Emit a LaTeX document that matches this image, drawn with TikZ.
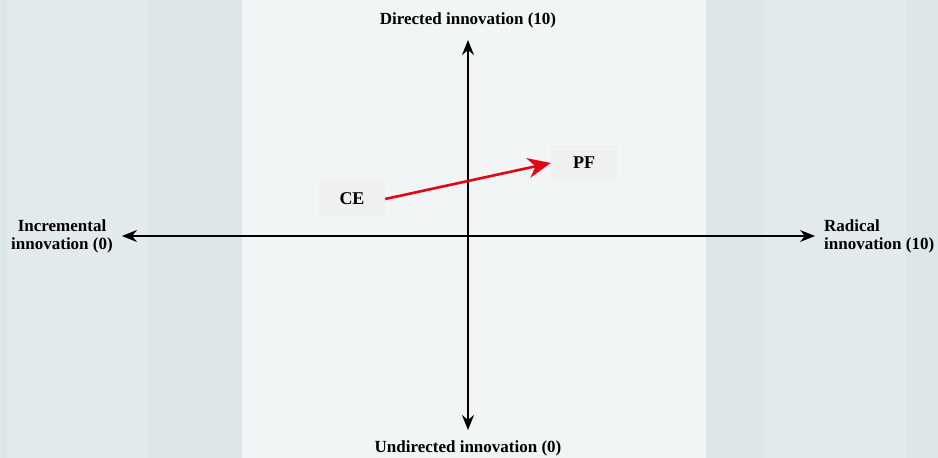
\documentclass[tikz,border=0pt]{standalone}
\usepackage{fontspec}
\setmainfont{Liberation Serif}
\usetikzlibrary{positioning, arrows.meta}
\definecolor{bgmid}{HTML}{F1F5F6}
\definecolor{bgside}{HTML}{E3EAED}
\definecolor{bgdark}{HTML}{DDE6E9}
\definecolor{boxgrey}{HTML}{EFF0F0}
\definecolor{arrowred}{HTML}{E30613}

\begin{document}
\begin{tikzpicture}[x=1pt, y=1pt,
    lbl/.style={font=\fontsize{17}{18}\selectfont\bfseries, inner sep=0pt},
    box/.style={fill=boxgrey, minimum width=66pt, minimum height=35pt, font=\fontsize{18}{20}\selectfont\bfseries},
    axis/.style={line width=1.6pt, {Stealth[length=15pt, width=12pt]}-{Stealth[length=15pt, width=12pt]}}]%[opacity=0.2]
                \fill[bgdark] (0,0) rectangle (938,-458);
                \fill[bgside] (7,0) rectangle (148,-458);
                \fill[bgside] (763,0) rectangle (906,-458);
                \fill[bgmid] (242,0) rectangle (706,-458);
                \useasboundingbox (0,0) rectangle (938,-458);
                \coordinate (W) at (122,-236);
                \coordinate (E) at (815,-236);
                \coordinate (N) at (468,-40);
                \coordinate (S) at (468,-430);
                \node[lbl] (dir) at (468,-20) {Directed innovation (10)};
                \node[lbl] (undir) at (468,-448) {Undirected innovation (0)};
                \node[lbl, align=center] (incr) at (62,-236) {Incremental\\innovation (0)};
                \node[lbl, align=left, anchor=west] (rad) at (824,-236) {Radical\\innovation (10)};
                \node[box] (CE) at (352,-199) {CE};
                \node[box] (PF) at (584,-163) {PF};
                \draw [axis] (W) -- (E);
                \draw [axis] (S) -- (N);
                \draw [line width=2.6pt, arrowred, -{Stealth[length=23pt, width=20pt]}]
                    (CE.east) -- (PF.west);
            \end{tikzpicture}
\end{document}
